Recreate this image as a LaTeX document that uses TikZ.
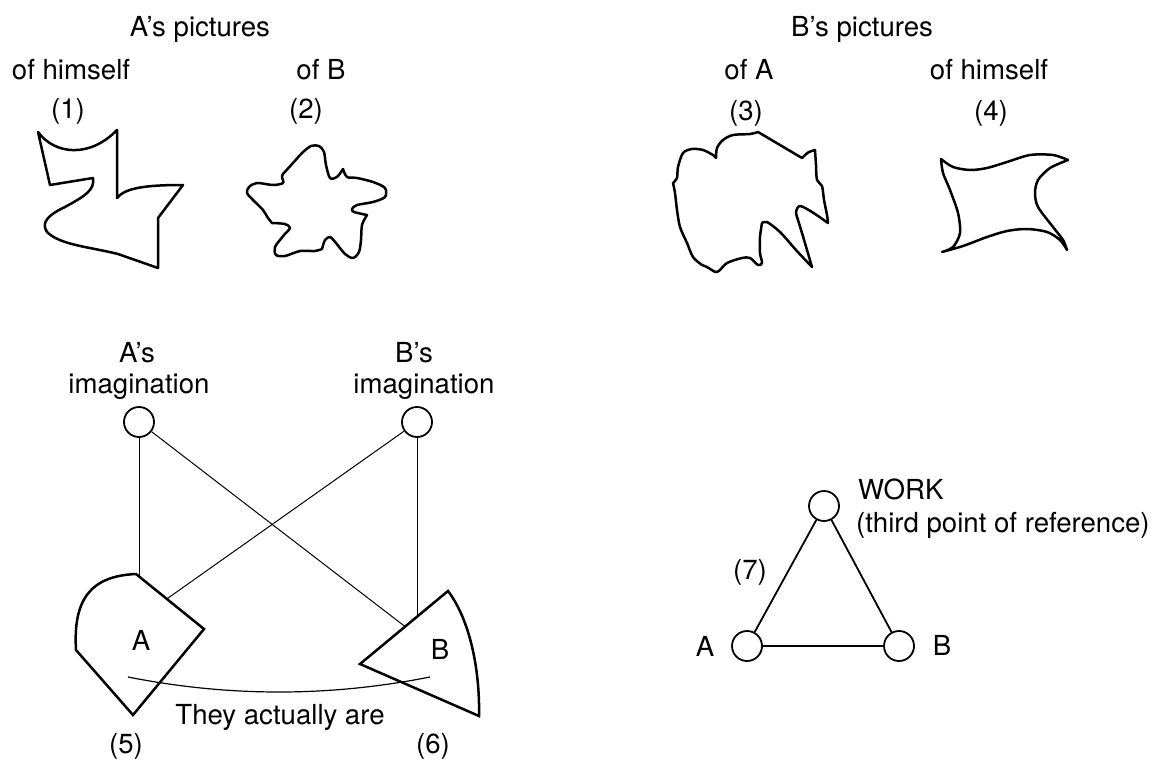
\documentclass[tikz,border=0pt]{standalone}
\usepackage{fontspec}
\setmainfont{TeX Gyre Heros}
\begin{document}
\begin{tikzpicture}[x=1pt,y=-1pt,
  lbl/.style={font=\fontsize{27.6}{33}\selectfont, inner sep=0pt, anchor=base},
  blob/.style={line width=2.5pt, line join=round},
  thickshape/.style={line width=2.5pt, line join=miter, miter limit=4},
  thinline/.style={line width=1pt},
  tri/.style={line width=1.8pt},
  ring/.style={circle, draw, line width=1.8pt, minimum size=30pt, inner sep=0pt}]
\useasboundingbox (0,0) rectangle (1164,760);

% titles
\node[lbl] (tA) at (200,37) {A’s pictures};
\node[lbl] (tB) at (862,37) {B’s pictures};
\node[lbl] (t1) at (71,80) {of himself};
\node[lbl] (t2) at (321,80) {of B};
\node[lbl] (t3) at (749,80) {of A};
\node[lbl] (t4) at (989,80) {of himself};
\node[lbl] (n1) at (68,118) {(1)};
\node[lbl] (n2) at (306,118) {(2)};
\node[lbl] (n3) at (746,120) {(3)};
\node[lbl] (n4) at (991,120) {(4)};

% shape 1
\draw[blob] (38,132) .. controls (55,155) and (90,158) .. (117,130) -- (117,198)
  .. controls (125,188) and (145,185) .. (183,185) -- (158,218) -- (158,268) -- (118,254)
  .. controls (90,247) and (60,245) .. (47,232) .. controls (40,222) and (50,214) .. (65,207)
  .. controls (85,196) and (95,190) .. (93,178) -- (50,185) -- cycle;

% shape 2
\draw[blob] plot[smooth] coordinates {(283,174) (293,163) (302,153) (311,146) (319,146) (324,152) (326,165) (330,178) (337,177) (343,169)}
 -- plot[smooth] coordinates {(343,169) (347,177) (357,178) (373,182) (385,188) (385,197) (373,202) (357,205) (352,209) (354,212) (367,215)}
 -- plot[smooth] coordinates {(367,215) (362,225) (361,240) (359,252) (353,258) (345,254) (336,243) (330,237) (325,240) (322,249)}
 -- plot[smooth] coordinates {(322,249) (315,251) (300,251) (285,256) (276,255) (275,247) (284,235) (290,228) (285,224) (272,223)}
 -- plot[smooth] coordinates {(272,223) (268,218) (263,210) (253,200) (247,193) (249,187) (257,183) (273,185) (283,183) (282,177) (283,174)} -- cycle;

% shape 3
\draw[blob] (758,132) -- (802,158) .. controls (808,152) .. (815,150)
 -- plot[smooth] coordinates {(815,150) (816,165) (817,180) (822,186) (824,200) (827,215) (828,223)}
 -- plot[smooth] coordinates {(828,223) (812,212) (800,206) (796,212) (798,220) (802,233) (807,250) (812,267)}
 -- plot[smooth] coordinates {(812,267) (796,250) (780,232) (767,222) (762,223)}
 -- plot[smooth] coordinates {(762,223) (760,237) (760,253) (762,263) (758,265) (750,258) (742,258) (727,263) (717,272) (707,267) (702,265) (693,257) (687,243) (680,227) (677,210) (675,193) (673,183)}
 -- plot[smooth] coordinates {(673,183) (677,178) (678,167) (683,153) (692,149) (703,150) (713,155) (716,158)}
 -- plot[smooth] coordinates {(716,158) (717,148) (723,140) (733,135) (750,134) (758,132)} -- cycle;

% shape 4
\draw[blob] plot[smooth] coordinates {(941,159) (953,167) (970,170) (987,168) (1007,162) (1030,155) (1053,155) (1068,160)}
 -- plot[smooth] coordinates {(1068,160) (1050,168) (1038,180) (1035,193) (1038,207) (1053,227) (1063,240) (1067,250)}
 -- plot[smooth] coordinates {(1067,250) (1060,240) (1047,232) (1027,229) (1007,231) (987,237) (963,246) (942,252)}
 -- plot[smooth] coordinates {(942,252) (953,247) (960,233) (958,213) (950,190) (943,173) (941,159)} -- cycle;

% imagination
\node[lbl] (ai1) at (137,362) {A’s};
\node[lbl] (ai2) at (139,393) {imagination};
\node[lbl] (bi1) at (414,362) {B’s};
\node[lbl] (bi2) at (424,393) {imagination};
\node[ring] (aimg) at (139,422) {};
\node[ring] (bimg) at (417,422) {};

% shapes 5 and 6
\draw[thickshape] (136,574) -- (204,629) -- (133,715) -- (76,650) .. controls (73,600) and (90,576) .. (136,574) -- cycle;
\draw[thickshape] (448,591) -- (360,664) -- (479,716) .. controls (480,670) and (470,620) .. (448,591) -- cycle;
\node[lbl] (sA) at (141,650) {A};
\node[lbl] (sB) at (440,659) {B};

\coordinate (aTop) at (139,576.5);
\coordinate (aEdge) at (166.7,599);
\coordinate (bTop) at (417,616.5);
\coordinate (bEdge) at (405,626.5);
\draw[thinline] (aimg) -- (aTop);
\draw[thinline] (aimg) -- (bEdge);
\draw[thinline] (bimg) -- (aEdge);
\draw[thinline] (bimg) -- (bTop);

\coordinate (arcL) at (128,677);
\coordinate (arcR) at (430,677);
\draw[line width=1.2pt] (arcL) .. controls (229,697) and (329,697) .. (arcR);
\node[lbl] (act) at (280,724) {They actually are};
\node[lbl] (n5) at (126,753) {(5)};
\node[lbl] (n6) at (433,753) {(6)};

% triangle
\node[ring] (work) at (824,506) {};
\node[ring] (ta) at (747,646) {};
\node[ring] (tb) at (899,646) {};
\draw[tri] (ta) -- (tb);
\draw[tri] (ta) -- (work);
\draw[tri] (tb) -- (work);
\node[lbl, anchor=base west] (wl) at (858,499) {WORK};
\node[lbl, anchor=base west] (wr) at (856,532) {(third point of reference)};
\node[lbl] (tal) at (705,656) {A};
\node[lbl] (tbl) at (942,655) {B};
\node[lbl] (n7) at (750,579) {(7)};
\end{tikzpicture}
\end{document}
